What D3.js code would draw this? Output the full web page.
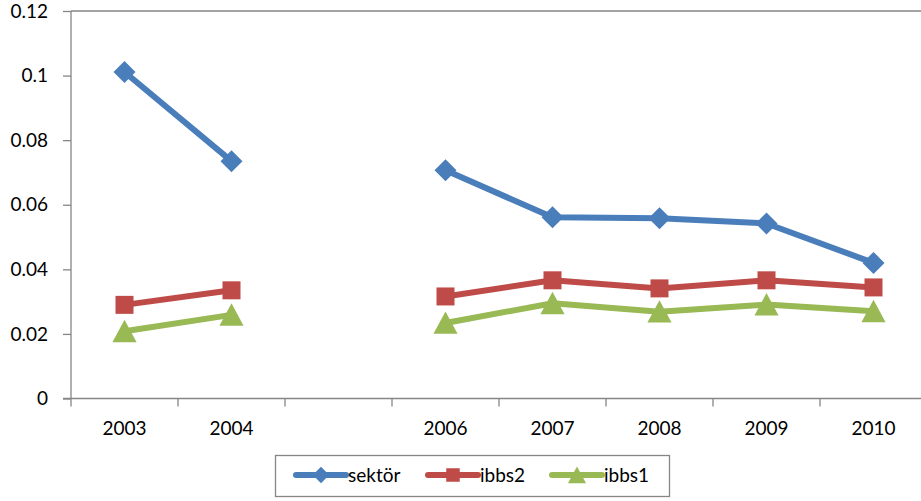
<!DOCTYPE html>
<html><head><meta charset="utf-8">
<script src="https://cdn.jsdelivr.net/npm/d3@7"></script>
<style>body{margin:0;background:#fff}svg{display:block}text{font-family:Lato,"Open Sans",sans-serif;fill:#000}</style>
</head><body>
<svg id="c" width="921" height="501"></svg>
<script>
const categories = ["2003","2004","2005","2006","2007","2008","2009","2010"];
const sektor = [0.1011, 0.0735, null, 0.0707, 0.0561, 0.0558, 0.0542, 0.0420];
const ibbs2  = [0.0290, 0.0335, null, 0.0316, 0.0366, 0.0341, 0.0366, 0.0344];
const ibbs1  = [0.0208, 0.0259, null, 0.0234, 0.0295, 0.0269, 0.0291, 0.0270];
const yTicks = [0, 0.02, 0.04, 0.06, 0.08, 0.1, 0.12];
const xLabels = ["2003","2004","","2006","2007","2008","2009","2010"];
const seriesNames = ["sektör","ibbs2","ibbs1"];

const series = [
  {name: seriesNames[0], values: sektor, color: "#4a7ebb", marker: "diamond"},
  {name: seriesNames[1], values: ibbs2, color: "#be4b48", marker: "square"},
  {name: seriesNames[2], values: ibbs1, color: "#98b954", marker: "triangle"}
];

const svg = d3.select("#c");
const L = 71, R = 927, T = 11, B = 398.5;
const x = d3.scaleBand().domain(categories).range([L, R]);
const y = d3.scaleLinear().domain([0, 0.12]).range([B, T]);
const axisColor = "#868686";
const FS = "19px";

// top border
svg.append("line").attr("x1", L).attr("x2", R).attr("y1", T).attr("y2", T)
  .attr("stroke", axisColor).attr("stroke-width", 1.5);

// y axis
const ya = svg.append("g").attr("transform", `translate(${L},0)`)
  .call(d3.axisLeft(y).tickValues(yTicks).tickSize(8).tickPadding(15)
    .tickFormat(d => d === 0 ? "0" : String(+d.toFixed(2))));
ya.selectAll("path,line").attr("stroke", axisColor).attr("stroke-width", 1.3);
ya.select("path").attr("d", `M0,${T}V${B}`);
ya.selectAll("text").style("font-size", FS).attr("fill", "#000");

// x axis
const xa = svg.append("g").attr("transform", `translate(0,${B})`)
  .call(d3.axisBottom(x).tickSize(0).tickPadding(23).tickFormat((d, i) => xLabels[i]));
xa.select("path").attr("stroke", axisColor).attr("stroke-width", 1.3).attr("d", `M${L-8},0H${R}`);
xa.selectAll("text").style("font-size", FS).attr("fill", "#000");
// boundary ticks
categories.forEach((c, i) => {
  svg.append("line").attr("x1", x(c)).attr("x2", x(c)).attr("y1", B).attr("y2", B + 8)
    .attr("stroke", axisColor).attr("stroke-width", 1.3);
});

const cx = i => x(categories[i]) + x.bandwidth() / 2;
const line = d3.line().defined(d => d.v !== null).x(d => cx(d.i)).y(d => y(d.v));

function markerPath(type, s) {
  if (type === "diamond") return `M0,${-s}L${s},0L0,${s}L${-s},0Z`;
  if (type === "square") return `M${-s},${-s}H${s}V${s}H${-s}Z`;
  return `M0,${-s}L${s*1.05},${s*0.95}H${-s*1.05}Z`;
}
const msize = {diamond: 11, square: 9, triangle: 11.5};

series.forEach(s => {
  const pts = s.values.map((v, i) => ({v, i}));
  svg.append("path").attr("d", line(pts)).attr("fill", "none")
    .attr("stroke", s.color).attr("stroke-width", 6).attr("stroke-linejoin", "round");
  svg.append("g").selectAll("path").data(pts.filter(d => d.v !== null)).join("path")
    .attr("transform", d => `translate(${cx(d.i)},${y(d.v)})`)
    .attr("d", markerPath(s.marker, msize[s.marker]))
    .attr("fill", s.color);
});

// legend
const lg = svg.append("g");
lg.append("rect").attr("x", 275.5).attr("y", 455.5).attr("width", 394).attr("height", 41)
  .attr("fill", "#fff").attr("stroke", "#868686").attr("stroke-width", 1.3);
const legX = [296, 428, 552];
series.forEach((s, k) => {
  const g = lg.append("g").attr("transform", `translate(${legX[k]},475)`);
  g.append("line").attr("x1", 0).attr("x2", 50).attr("stroke", s.color).attr("stroke-width", 6).attr("stroke-linecap", "round");
  g.append("path").attr("transform", "translate(25,0)").attr("d", markerPath(s.marker, msize[s.marker] * 0.75)).attr("fill", s.color);
  g.append("text").attr("x", 52).attr("y", 0).attr("dy", "0.35em").style("font-size", FS).text(s.name);
});
</script>
</body></html>
